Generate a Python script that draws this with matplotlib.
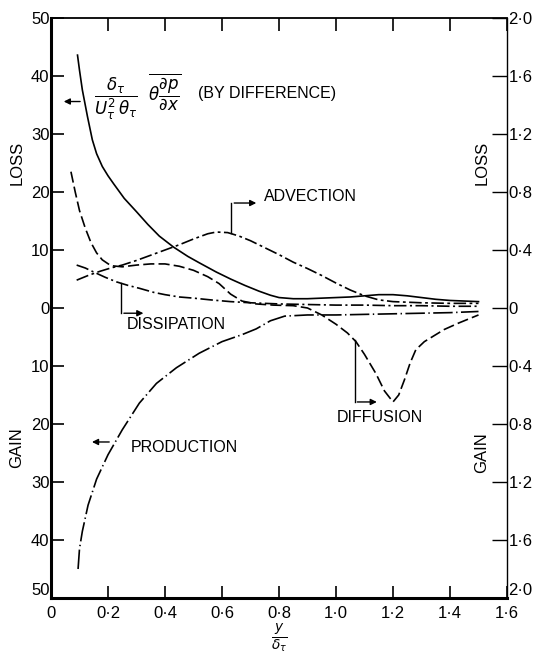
import matplotlib
matplotlib.use('Agg')
import matplotlib.pyplot as plt
import numpy as np

plt.rcParams['font.family'] = ['Liberation Sans', 'DejaVu Sans']
plt.rcParams['mathtext.fontset'] = 'dejavusans'
plt.rcParams['lines.scale_dashes'] = False

# pressure term (by difference), solid
x_press = [0.093, 0.10, 0.11, 0.128, 0.145, 0.16, 0.18, 0.20, 0.22, 0.257, 0.30, 0.34, 0.38, 0.43,
           0.48, 0.52, 0.58, 0.63, 0.68, 0.73, 0.77, 0.80, 0.85, 0.90, 0.95, 1.00, 1.05, 1.10,
           1.15, 1.20, 1.25, 1.30, 1.35, 1.40, 1.45, 1.50]
y_press = [43.6, 41.0, 37.6, 33.0, 29.0, 26.6, 24.4, 22.8, 21.4, 18.9, 16.6, 14.4, 12.4, 10.5,
           8.9, 7.8, 6.2, 5.0, 3.9, 2.9, 2.2, 1.8, 1.6, 1.6, 1.7, 1.8, 1.9, 2.1,
           2.3, 2.3, 2.1, 1.8, 1.5, 1.3, 1.2, 1.1]

# advection
x_adv = [0.09, 0.13, 0.17, 0.21, 0.25, 0.30, 0.35, 0.40, 0.45, 0.50, 0.55, 0.58, 0.62, 0.66,
         0.70, 0.75, 0.80, 0.85, 0.90, 0.95, 1.00, 1.05, 1.10, 1.15, 1.20, 1.30, 1.40, 1.50]
y_adv = [4.8, 5.6, 6.3, 6.9, 7.4, 8.2, 9.1, 10.0, 10.9, 11.9, 12.8, 13.1, 13.0, 12.4,
         11.6, 10.4, 9.2, 7.9, 6.8, 5.6, 4.3, 3.1, 2.1, 1.4, 1.1, 0.9, 0.8, 0.8]

# diffusion
x_diff = [0.07, 0.085, 0.10, 0.12, 0.14, 0.16, 0.18, 0.21, 0.25, 0.30, 0.35, 0.40, 0.45, 0.50,
          0.55, 0.59, 0.63, 0.67, 0.72, 0.78, 0.85, 0.90, 0.95, 1.00, 1.04, 1.07, 1.10, 1.14,
          1.17, 1.20, 1.22, 1.24, 1.26, 1.28, 1.31, 1.34, 1.38, 1.43, 1.50]
y_diff = [23.5, 20.0, 16.8, 13.8, 11.3, 9.5, 8.3, 7.3, 7.1, 7.4, 7.6, 7.6, 7.2, 6.5,
          5.4, 4.2, 2.4, 1.2, 0.7, 0.5, 0.4, 0.0, -1.2, -2.8, -4.3, -5.8, -8.0, -11.3,
          -14.3, -16.2, -15.0, -12.4, -9.5, -7.2, -5.8, -4.9, -3.7, -2.6, -1.2]

# dissipation
x_diss = [0.09, 0.12, 0.15, 0.19, 0.23, 0.27, 0.31, 0.36, 0.40, 0.45, 0.50, 0.56, 0.63, 0.70,
          0.80, 0.90, 1.00, 1.10, 1.20, 1.30, 1.40, 1.50]
y_diss = [7.4, 6.9, 6.2, 5.3, 4.5, 3.9, 3.4, 2.7, 2.3, 1.9, 1.7, 1.4, 1.1, 0.9,
          0.7, 0.6, 0.5, 0.5, 0.4, 0.4, 0.3, 0.3]

# production (gain)
x_prod = [0.095, 0.10, 0.11, 0.13, 0.16, 0.20, 0.25, 0.31, 0.37, 0.44, 0.52, 0.60, 0.67, 0.72,
          0.77, 0.82, 0.90, 1.00, 1.10, 1.20, 1.30, 1.40, 1.50]
y_prod = [-45.0, -41.5, -38.5, -34.0, -29.5, -25.3, -21.0, -16.4, -13.0, -10.3, -7.8, -5.8, -4.6, -3.6,
          -2.2, -1.4, -1.2, -1.2, -1.1, -1.0, -0.9, -0.8, -0.6]

xticks = [0, 0.2, 0.4, 0.6, 0.8, 1.0, 1.2, 1.4, 1.6]
xlabels = ['0', '0·2', '0·4', '0·6', '0·8', '1·0', '1·2', '1·4', '1·6']
lticks = [50, 40, 30, 20, 10, 0, -10, -20, -30, -40, -50]
llabels = ['50', '40', '30', '20', '10', '0', '10', '20', '30', '40', '50']
rticks = [2.0, 1.6, 1.2, 0.8, 0.4, 0, -0.4, -0.8, -1.2, -1.6, -2.0]
rlabels = ['2·0', '1·6', '1·2', '0·8', '0·4', '0', '0·4', '0·8', '1·2', '1·6', '2·0']

fig = plt.figure(figsize=(5.35, 6.55), dpi=100)
ax = fig.add_axes([51/535, 1-598/655, 456/535, 580/655])

lw = 1.2
ax.plot(x_press, y_press, color='black', lw=lw)
ax.plot(x_adv, y_adv, color='black', lw=lw, dashes=(9, 2.5, 2, 2.5))
ax.plot(x_diff, y_diff, color='black', lw=lw, dashes=(8, 3))
ax.plot(x_diss, y_diss, color='black', lw=lw, dashes=(9, 2.5, 1.5, 2.5))
ax.plot(x_prod, y_prod, color='black', lw=lw, dashes=(14, 2.5, 1, 2.5))

ax.set_xlim(0, 1.6)
ax.set_ylim(-50, 50)
ax.set_xticks(xticks)
ax.set_xticklabels(xlabels)
ax.set_yticks(lticks)
ax.set_yticklabels(llabels)
ax.tick_params(direction='in', length=9, width=1.2, top=True, labelsize=12, colors='black')
ax.tick_params(axis='x', pad=6)
ax.tick_params(axis='y', pad=1)
ax.spines['left'].set_linewidth(2.2)
ax.spines['bottom'].set_linewidth(2.2)
ax.spines['top'].set_linewidth(1.3)
ax.spines['right'].set_linewidth(1.0)

ax2 = ax.twinx()
ax2.set_ylim(-2, 2)
ax2.set_yticks(rticks)
ax2.set_yticklabels(rlabels)
ax2.tick_params(direction='in', length=11, width=1.0, labelsize=12, pad=1)
for s in ax2.spines.values():
    s.set_visible(False)

# lowest labels sit just above the bottom spine
ax.get_yticklabels()[-1].set_va('bottom')
ax2.get_yticklabels()[-1].set_va('bottom')

ax.set_xlabel(r'$\frac{y}{\delta_\tau}$', fontsize=14, labelpad=0)

fig.text(17/535, 1-163/655, 'LOSS', rotation=90, ha='center', va='center', fontsize=12)
fig.text(17/535, 1-448/655, 'GAIN', rotation=90, ha='center', va='center', fontsize=12)
fig.text(482/535, 1-163/655, 'LOSS', rotation=90, ha='center', va='center', fontsize=12)
fig.text(482/535, 1-453/655, 'GAIN', rotation=90, ha='center', va='center', fontsize=12)

arrow = dict(arrowstyle='-|>', color='black', lw=1.0, mutation_scale=9)

# formula label
ax.text(0.15, 36.5, r'$\dfrac{\delta_\tau}{U_\tau^2\,\theta_\tau}\ \ \overline{\theta\dfrac{\partial p}{\partial x}}$',
        fontsize=12, ha='left', va='center')
ax.text(0.515, 37.0, '(BY DIFFERENCE)', fontsize=11.5, ha='left', va='center')
ax.annotate('', xy=(0.035, 35.6), xytext=(0.112, 35.6), arrowprops=arrow)

# advection
ax.plot([0.633, 0.633], [12.9, 18.1], color='black', lw=1.0)
ax.annotate('', xy=(0.73, 18.1), xytext=(0.633, 18.1), arrowprops=arrow)
ax.text(0.749, 19.3, 'ADVECTION', fontsize=11.5, ha='left', va='center')

# dissipation
ax.plot([0.246, 0.246], [4.3, -0.9], color='black', lw=1.0)
ax.annotate('', xy=(0.334, -0.9), xytext=(0.246, -0.9), arrowprops=arrow)
ax.text(0.267, -2.9, 'DISSIPATION', fontsize=11.5, ha='left', va='center')

# diffusion
ax.plot([1.065, 1.065], [-5.5, -16.2], color='black', lw=1.0)
ax.annotate('', xy=(1.153, -16.2), xytext=(1.065, -16.2), arrowprops=arrow)
ax.text(1.002, -18.8, 'DIFFUSION', fontsize=11.5, ha='left', va='center')

# production
ax.annotate('', xy=(0.134, -23.1), xytext=(0.214, -23.1), arrowprops=arrow)
ax.text(0.281, -24.0, 'PRODUCTION', fontsize=11.5, ha='left', va='center')

plt.savefig('out.png', dpi=100)
